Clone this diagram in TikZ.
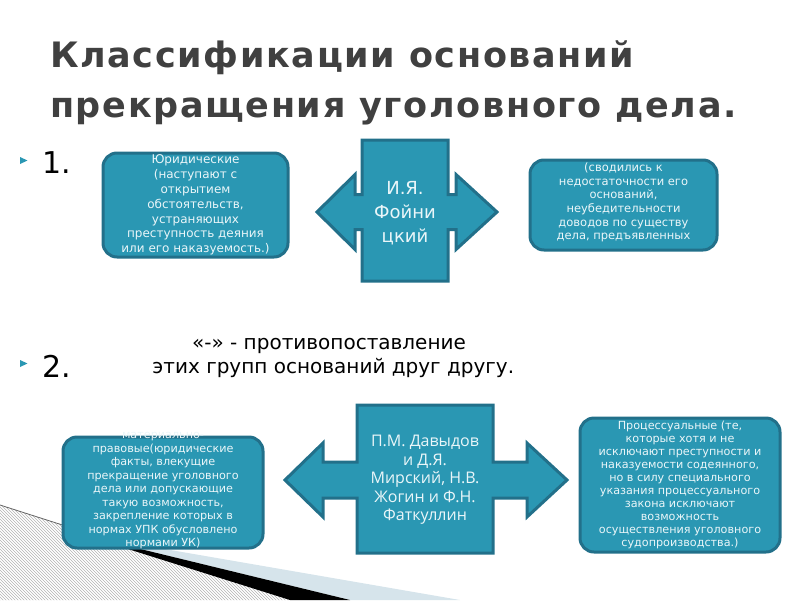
\documentclass[tikz,border=0pt]{standalone}
\usepackage{fontspec}
\setmainfont{DejaVu Sans}
\newfontfamily\namefont{Open Sans}
\newfontfamily\titlefont[LetterSpace=4.7]{DejaVu Sans}
\usetikzlibrary{patterns}
\definecolor{ink}{HTML}{404040}
\definecolor{tealfill}{HTML}{2A97B3}
\definecolor{tealedge}{HTML}{22708A}
\definecolor{paletext}{HTML}{EAF6F9}
\definecolor{swoosh}{HTML}{D6E4EB}

\begin{document}
\begin{tikzpicture}[x=1pt,y=-1pt,every node/.style={inner sep=0pt},
  box/.style 2 args={draw=tealedge,line width=3pt,fill=tealfill,rounded corners=14pt,
    minimum width=#1,minimum height=#2},
  arrowbody/.style={draw=tealedge,line width=3pt,fill=tealfill,line join=miter},
  note/.style={text=paletext,align=center}]
\useasboundingbox (0,0) rectangle (800,600);
% bottom ornament
\fill[pattern=north west lines,pattern color=gray!60] (0,505)--(128,546)--(290,600)--(0,600)--cycle;
\draw[gray!80!black,line width=0.8pt] (0,505)--(128,546);
\fill[swoosh] (130,543)--(460,600)--(350,600)--(128,546)--cycle;
\fill[black] (128,546)--(350,600)--(290,600)--(128,549)--cycle;
% title
\node[anchor=base west,text=ink,font=\titlefont\fontsize{35}{40}\selectfont\bfseries] (title1) at (50,67) {Классификации оснований};
\node[anchor=base west,text=ink,font=\titlefont\fontsize{35}{40}\selectfont\bfseries] (title2) at (50,117) {прекращения уголовного дела.};
% bullets
\fill[tealfill] (20,157)--(27.5,160.5)--(20,164)--cycle;
\fill[tealfill] (20,360)--(27.5,363.5)--(20,367)--cycle;
\node[anchor=base west,font=\fontsize{30}{36}\selectfont] (one) at (42,173) {1.};
\node[anchor=base west,font=\fontsize{30}{36}\selectfont] (two) at (42,377) {2.};
% first scheme
\draw[arrowbody] (317,212)--(355,174.5)--(355,194.5)--(362,194.5)--(362,140)--(448,140)--(448,194.5)
  --(456,194.5)--(456,174.5)--(497,212)--(456,249.5)--(456,229.5)--(448,229.5)--(448,281)
  --(362,281)--(362,229.5)--(355,229.5)--(355,249.5)--cycle;
\node[note,font=\fontsize{18}{24}\selectfont] (fojn) at (405,213) {И.Я.\\Фойни\\цкий};
\node[box={185pt}{104pt}] (jur) at (195.5,205) {};
\node[note,font=\fontsize{12}{14.8}\selectfont] (jurtext) at (jur.center) {Юридические\\(наступают с\\открытием\\обстоятельств,\\устраняющих\\преступность деяния\\или его наказуемость.)};
\node[box={187pt}{90pt}] (insuf) at (623.5,205) {};
\node[note,font=\fontsize{11.5}{13.7}\selectfont] (insuftext) at (623.5,202.5) {(сводились к\\недостаточности его\\оснований,\\неубедительности\\доводов по существу\\дела, предъявленных};
% middle text
\node[anchor=base,font=\fontsize{20}{24}\selectfont] (contra) at (329,349) {«-» - противопоставление};
\node[anchor=base,font=\fontsize{20}{24}\selectfont] (groups) at (333.3,373) {этих групп оснований друг другу.};
% second scheme
\draw[arrowbody] (285,480)--(323,443)--(323,462)--(357,462)--(357,405)--(493,405)--(493,462)
  --(527,462)--(527,443)--(567,480)--(527,517)--(527,498)--(493,498)--(493,553)
  --(357,553)--(357,498)--(323,498)--(323,517)--cycle;
\node[note,font=\namefont\fontsize{16}{18.5}\selectfont] (davyd) at (425,480) {П.М. Давыдов\\и Д.Я.\\Мирский, Н.В.\\Жогин и Ф.Н.\\Фаткуллин};
\node[box={200pt}{111pt}] (mat) at (163,492.5) {};
\node[note,font=\fontsize{11.2}{13.5}\selectfont] (mattext) at (163,491) {материально-\\правовые(юридические\\факты, влекущие\\прекращение уголовного\\дела или допускающие\\такую возможность,\\закрепление которых в\\нормах УПК обусловлено\\нормами УК)};
\node[box={200pt}{134pt}] (proc) at (680,485) {};
\node[note,font=\fontsize{11.2}{13}\selectfont] (proctext) at (proc.center) {Процессуальные (те,\\которые хотя и не\\исключают преступности и\\наказуемости содеянного,\\но в силу специального\\указания процессуального\\закона исключают\\возможность\\осуществления уголовного\\судопроизводства.)};
\end{tikzpicture}
\end{document}
